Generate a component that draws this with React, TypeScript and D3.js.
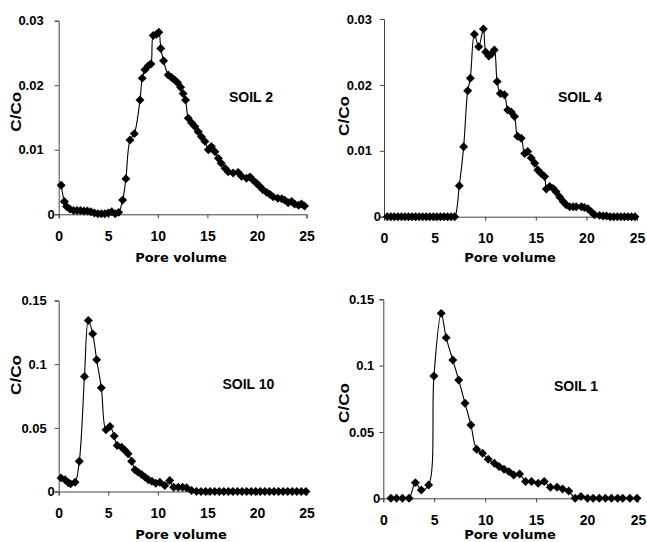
import React, { useEffect, useRef } from 'react';
import * as d3 from 'd3';

// pore volume / C/Co
const soil2Pv = [0.25, 0.57, 0.8, 1.14, 1.5, 1.85, 2.2, 2.55, 2.9, 3.25, 3.6, 3.95, 4.3, 4.65, 5.0, 5.35, 5.7, 6.05, 6.45, 6.78, 7.19, 7.63, 8.2, 8.43, 8.7, 9.03, 9.3, 9.54, 9.87, 10.1, 10.3, 10.58, 11.05, 11.4, 11.7, 12.0, 12.3, 12.55, 12.8, 13.07, 13.4, 13.74, 14.08, 14.4, 14.75, 15.1, 15.4, 15.76, 16.1, 16.4, 16.8, 17.1, 17.6, 18.1, 18.45, 18.95, 19.3, 19.6, 19.96, 20.3, 20.6, 20.97, 21.3, 21.64, 22.1, 22.5, 22.8, 23.15, 23.5, 23.8, 24.2, 24.5, 24.8];
const soil2C = [0.0045, 0.0020, 0.0012, 0.0008, 0.0006, 0.0006, 0.0006, 0.0005, 0.0005, 0.0004, 0.0002, 0.0001, 0.0001, 0.0001, 0.0002, 0.0004, 0.0001, 0.0003, 0.0022, 0.0055, 0.0115, 0.0125, 0.0177, 0.0211, 0.0224, 0.0230, 0.0233, 0.0277, 0.0279, 0.0282, 0.0257, 0.0238, 0.0216, 0.0212, 0.0208, 0.0204, 0.0197, 0.0187, 0.0177, 0.0149, 0.0142, 0.0136, 0.0128, 0.0120, 0.0113, 0.0100, 0.0105, 0.0097, 0.0087, 0.0079, 0.0071, 0.0066, 0.0064, 0.0065, 0.0059, 0.0056, 0.0058, 0.0053, 0.0048, 0.0043, 0.0038, 0.0034, 0.0031, 0.0027, 0.0025, 0.0024, 0.0022, 0.0018, 0.0020, 0.0016, 0.0014, 0.0016, 0.0013];

const soil4Pv = [0.33, 0.68, 1.03, 1.38, 1.73, 2.08, 2.43, 2.78, 3.13, 3.48, 3.83, 4.18, 4.53, 4.88, 5.23, 5.58, 5.93, 6.28, 6.63, 6.98, 7.44, 7.87, 8.27, 8.53, 8.93, 9.36, 9.82, 10.05, 10.35, 10.62, 10.9, 11.18, 11.5, 11.9, 12.23, 12.57, 12.9, 13.2, 13.56, 13.9, 14.2, 14.55, 14.9, 15.2, 15.5, 15.87, 16.04, 16.37, 16.7, 17.0, 17.36, 17.7, 18.0, 18.35, 18.7, 19.0, 19.5, 19.8, 20.15, 20.5, 20.8, 21.3, 21.65, 22.0, 22.35, 22.7, 23.05, 23.4, 23.75, 24.1, 24.45, 24.8];
const soil4C = [0, 0, 0, 0, 0, 0, 0, 0, 0, 0, 0, 0, 0, 0, 0, 0, 0, 0, 0, 0, 0.0047, 0.0106, 0.0191, 0.0210, 0.0277, 0.0258, 0.0285, 0.0250, 0.0244, 0.0247, 0.0253, 0.0205, 0.0187, 0.0185, 0.0162, 0.0159, 0.0152, 0.0122, 0.0119, 0.0096, 0.0099, 0.0089, 0.0081, 0.0071, 0.0066, 0.0061, 0.0042, 0.0046, 0.0043, 0.0038, 0.0030, 0.0023, 0.0018, 0.0015, 0.0015, 0.0015, 0.0015, 0.0014, 0.0012, 0.0007, 0.0003, 0.0002, 0.0001, 0.0001, 0, 0, 0, 0, 0, 0, 0, 0];

const soil10Pv = [0.24, 0.64, 0.97, 1.2, 1.65, 2.08, 2.6, 2.99, 3.43, 3.83, 4.3, 4.77, 5.17, 5.6, 5.9, 6.35, 6.7, 7.0, 7.36, 7.7, 8.0, 8.37, 8.7, 9.04, 9.4, 9.8, 10.2, 10.7, 11.2, 11.6, 12.06, 12.5, 12.9, 13.4, 13.9, 14.36, 14.82, 15.28, 15.74, 16.2, 16.66, 17.12, 17.58, 18.04, 18.5, 18.96, 19.42, 19.88, 20.34, 20.8, 21.26, 21.72, 22.18, 22.64, 23.1, 23.56, 24.02, 24.48, 24.94];
const soil10C = [0.0107, 0.0092, 0.0068, 0.0060, 0.0073, 0.0238, 0.0903, 0.1343, 0.1238, 0.1034, 0.0814, 0.0484, 0.0510, 0.0435, 0.0361, 0.0348, 0.0322, 0.0296, 0.0238, 0.0170, 0.0152, 0.0134, 0.0113, 0.0092, 0.0081, 0.0065, 0.0073, 0.0047, 0.0086, 0.0034, 0.0034, 0.0034, 0.0029, 0.0008, 0, 0, 0, 0, 0, 0, 0, 0, 0, 0, 0, 0, 0, 0, 0, 0, 0, 0, 0, 0, 0, 0, 0, 0, 0];

const soil1Pv = [0.75, 1.3, 1.88, 2.53, 3.15, 3.73, 4.45, 4.97, 5.68, 6.17, 6.82, 7.4, 8.02, 8.6, 9.16, 9.74, 10.3, 10.9, 11.36, 11.85, 12.34, 12.8, 13.38, 13.96, 14.55, 15.2, 15.8, 16.4, 17.05, 17.6, 18.2, 18.83, 19.4, 20.05, 20.6, 21.2, 21.8, 22.4, 23.0, 23.5, 24.2, 24.9];
const soil1C = [0, 0, 0, 0, 0.0118, 0.0063, 0.0100, 0.0922, 0.1394, 0.1211, 0.1043, 0.0892, 0.0716, 0.0553, 0.0369, 0.0339, 0.0294, 0.0264, 0.0239, 0.0219, 0.0201, 0.0176, 0.0183, 0.0126, 0.0126, 0.0113, 0.0126, 0.0083, 0.0083, 0.0070, 0.0055, 0, 0.0013, 0, 0, 0, 0, 0, 0, 0, 0, 0];

const xTicks = [0, 5, 10, 15, 20, 25];
const xTickLabels = ['0', '5', '10', '15', '20', '25'];
const yTicksSmall = [0, 0.01, 0.02, 0.03];
const yTickLabelsSmall = ['0', '0.01', '0.02', '0.03'];
const yTicksLarge = [0, 0.05, 0.1, 0.15];
const yTickLabelsLarge = ['0', '0.05', '0.1', '0.15'];

// layout of the four panels (pixel boxes measured on the figure)
const panels = [
  { name: 'SOIL 2', pv: soil2Pv, c: soil2C, yMax: 0.03, yTicks: yTicksSmall, yLabels: yTickLabelsSmall,
    left: 58.7, right: 306.5, bottom: 214.3, top: 20.7, pad: 15, zeroPad: 4,
    nameX: 229, nameY: 102, ylabX: 20.5, ylabY: 111.7, xlabX: 181, xlabY: 262 },
  { name: 'SOIL 4', pv: soil4Pv, c: soil4C, yMax: 0.03, yTicks: yTicksSmall, yLabels: yTickLabelsSmall,
    left: 384, right: 637, bottom: 216.7, top: 19, pad: 12, zeroPad: 3,
    nameX: 558, nameY: 102, ylabX: 348.5, ylabY: 116, xlabX: 510, xlabY: 262 },
  { name: 'SOIL 10', pv: soil10Pv, c: soil10C, yMax: 0.15, yTicks: yTicksLarge, yLabels: yTickLabelsLarge,
    left: 58.7, right: 306.5, bottom: 491.5, top: 300.5, pad: 12, zeroPad: 4,
    nameX: 222.5, nameY: 388.5, ylabX: 21, ylabY: 375, xlabX: 181, xlabY: 539 },
  { name: 'SOIL 1', pv: soil1Pv, c: soil1C, yMax: 0.15, yTicks: yTicksLarge, yLabels: yTickLabelsLarge,
    left: 383.3, right: 638, bottom: 498.3, top: 299.3, pad: 9, zeroPad: 3,
    nameX: 554, nameY: 391, ylabX: 348.5, ylabY: 403, xlabX: 510, xlabY: 539 },
];

const boldArial = '"Liberation Sans", Arial, sans-serif';
const wideBold = '"DejaVu Sans", Verdana, sans-serif';

function App() {
  const ref = useRef<SVGSVGElement>(null);

  useEffect(() => {
    const svg = d3.select(ref.current);
    svg.selectAll('*').remove();

    panels.forEach(function (p) {
      const x = d3.scaleLinear().domain([0, 25]).range([p.left, p.right]);
      const y = d3.scaleLinear().domain([0, p.yMax]).range([p.bottom, p.top]);
      const g = svg.append('g');

      // x axis
      const xa = g.append('g')
        .attr('transform', 'translate(0,' + p.bottom + ')')
        .call(d3.axisBottom(x).tickValues(xTicks).tickSize(4)
          .tickFormat((d, i) => xTickLabels[i]));
      xa.select('.domain').attr('stroke', '#444');
      xa.selectAll('.tick line').attr('stroke', '#444');
      xa.selectAll('.tick text')
        .attr('y', 26.5).attr('dy', 0)
        .attr('fill', '#000')
        .style('font-family', boldArial).style('font-weight', 'bold').style('font-size', '14px');

      // y axis
      const ya = g.append('g')
        .attr('transform', 'translate(' + p.left + ',0)')
        .call(d3.axisLeft(y).tickValues(p.yTicks).tickSize(4)
          .tickFormat((d, i) => p.yLabels[i]));
      ya.select('.domain').attr('stroke', '#444');
      ya.selectAll('.tick line').attr('stroke', '#444');
      ya.selectAll('.tick text')
        .attr('x', (d: any) => (d === 0 ? -p.zeroPad : -p.pad))
        .attr('fill', '#000')
        .style('font-family', boldArial).style('font-weight', 'bold').style('font-size', '13px');

      const pts = p.pv.map((v, i) => [v, p.c[i]] as [number, number]);

      const line = d3.line<[number, number]>()
        .x(d => x(d[0]))
        .y(d => y(d[1]))
        .curve(d3.curveCatmullRom.alpha(0.5));

      g.append('path')
        .datum(pts)
        .attr('d', line)
        .attr('fill', 'none')
        .attr('stroke', '#000')
        .attr('stroke-width', 1.1);

      const diamond = d3.symbol().type(d3.symbolSquare).size(40)();
      g.selectAll('.pt')
        .data(pts)
        .enter().append('path')
        .attr('class', 'pt')
        .attr('d', diamond)
        .attr('transform', d => 'translate(' + x(d[0]) + ',' + y(d[1]) + ') rotate(45)')
        .attr('fill', '#000');

      g.append('text')
        .attr('x', p.nameX).attr('y', p.nameY)
        .style('font-family', boldArial).style('font-weight', 'bold').style('font-size', '14px')
        .text(p.name);

      g.append('text')
        .attr('transform', 'translate(' + p.ylabX + ',' + p.ylabY + ') rotate(-90)')
        .attr('text-anchor', 'middle')
        .attr('textLength', 40).attr('lengthAdjust', 'spacingAndGlyphs')
        .style('font-family', boldArial).style('font-weight', 'bold').style('font-size', '14px')
        .text('C/Co');

      g.append('text')
        .attr('x', p.xlabX).attr('y', p.xlabY)
        .attr('text-anchor', 'middle')
        .style('font-family', wideBold).style('font-weight', 'bold').style('font-size', '13px')
        .text('Pore volume');
    });
  }, []);

  return (
    <div style={{ position: 'absolute', left: 0, top: 0, background: '#fff' }}>
      <svg ref={ref} width={647} height={542} style={{ display: 'block' }}></svg>
    </div>
  );
}

export default App;
